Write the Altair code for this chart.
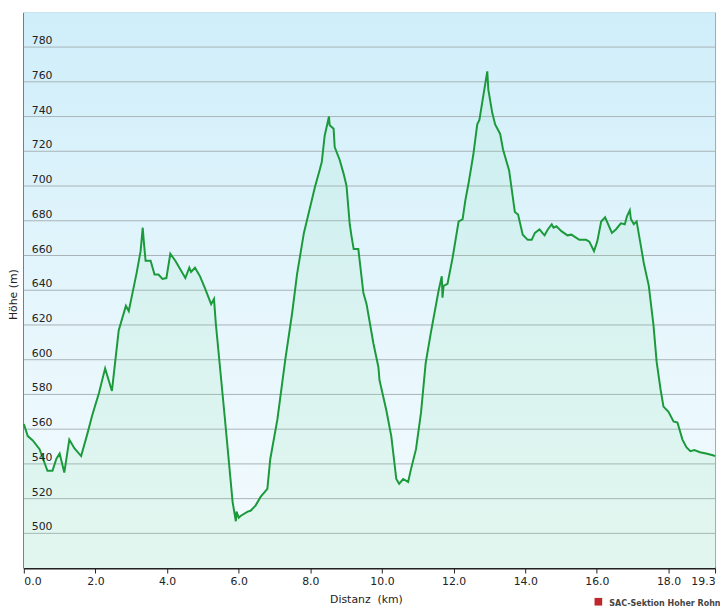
import altair as alt
import pandas as pd

dist = [0.00, 0.11, 0.25, 0.44, 0.66, 0.80, 0.91, 1.00, 1.13, 1.27, 1.41, 1.60, 1.77, 1.91,
        2.10, 2.27, 2.46, 2.65, 2.85, 2.93, 3.01, 3.15, 3.26, 3.32, 3.35, 3.40, 3.54, 3.65,
        3.76, 3.87, 3.98, 4.09, 4.23, 4.51, 4.62, 4.67, 4.78, 4.92, 5.06, 5.23, 5.31, 5.36,
        5.61, 5.83, 5.92, 5.94, 6.00, 6.05, 6.25, 6.33, 6.47, 6.61, 6.80, 6.88, 7.08, 7.30,
        7.49, 7.63, 7.82, 8.05, 8.13, 8.27, 8.32, 8.40, 8.52, 8.54, 8.65, 8.68, 8.82, 8.93,
        9.01, 9.10, 9.15, 9.21, 9.34, 9.48, 9.57, 9.76, 9.90, 9.93, 10.12, 10.26, 10.40,
        10.48, 10.59, 10.73, 10.81, 10.95, 11.09, 11.22, 11.36, 11.58, 11.67, 11.69, 11.72,
        11.83, 11.97, 12.14, 12.25, 12.33, 12.41, 12.55, 12.66, 12.72, 12.83, 12.94, 12.97,
        13.08, 13.16, 13.30, 13.38, 13.55, 13.71, 13.80, 13.93, 14.07, 14.18, 14.27, 14.40,
        14.49, 14.54, 14.63, 14.74, 14.79, 14.87, 15.01, 15.18, 15.29, 15.51, 15.70, 15.79,
        15.92, 16.01, 16.12, 16.23, 16.42, 16.53, 16.67, 16.78, 16.84, 16.92, 16.95, 17.03,
        17.11, 17.22, 17.31, 17.45, 17.58, 17.67, 17.78, 17.86, 18.00, 18.14, 18.25, 18.39,
        18.50, 18.61, 18.72, 18.88, 19.05, 19.24, 19.30]
elev = [563, 556, 553.5, 548.5, 536, 536, 543, 546, 535, 554, 549, 544.5, 557, 568,
        581, 595, 582, 617, 631, 628, 636, 650, 662.5, 676, 668, 657, 657, 649,
        649, 646.5, 647, 661, 657, 647, 653, 650.5, 653, 648, 641, 632, 635, 621,
        567, 518, 507, 512.5, 509, 510, 512.5, 513, 516, 521, 525.6, 542.7, 565.6, 600,
        626.6, 649.4, 673, 692.7, 699.6, 710, 714, 729, 740, 735, 733, 722.4, 715, 707,
        700, 678, 671, 663.7, 663.7, 638.6, 632, 609.5, 595.8, 588.4, 571, 556, 531.3,
        528.5, 531.3, 529.6, 537, 548.5, 569.5, 598, 615, 639.7, 648, 635.7, 642.5,
        643.7, 658.5, 679.6, 680.8, 692, 700.7, 718, 735.5, 738, 752, 766, 755.5,
        742, 735.5, 730, 721, 709, 685, 683.6, 672, 669, 669, 673, 675,
        672.8, 671.6, 675, 678, 676, 676.8, 674, 671.6, 672, 669, 669, 668,
        662.5, 668, 679.6, 682, 673, 675, 678.5, 678, 682.5, 686, 681, 678,
        679.6, 666.5, 655.7, 642.5, 620, 598.6, 582.7, 573, 570, 564.4, 563.8, 554,
        549.6, 547.3, 548, 546.7, 546, 545, 544.5]

y_ticks = [500, 520, 540, 560, 580, 600, 620, 640, 660, 680, 700, 720, 740, 760, 780]
x_ticks = [0, 2, 4, 6, 8, 10, 12, 14, 16, 18, 19.3]
x_title = "Distanz\u00a0 (km)"
y_title = "Höhe (m)"
credit = "SAC-Sektion Hoher Rohn"

W, H = 699, 562
FONT = "DejaVu Sans"
INK = "#222222"

df = pd.DataFrame({"d": dist, "e": elev})
ticks_df = pd.DataFrame({"v": y_ticks, "t": [str(v) for v in y_ticks]})

xscale = alt.Scale(domain=[0, 19.3], nice=False, zero=False)
yscale = alt.Scale(domain=[480, 800], nice=False, zero=False)

x_axis = alt.Axis(values=x_ticks, format=".1f", labelFlush=True, labelOverlap=False,
                  grid=False, domainColor=INK, domainWidth=2, tickColor=INK,
                  tickSize=5, tickWidth=1, labelPadding=3, labelFont=FONT,
                  labelFontSize=11, labelColor=INK, title=x_title, titleFont=FONT,
                  titleFontSize=11, titleFontWeight="normal", titleColor=INK,
                  titleX=346, titleY=35, titleBaseline="alphabetic", titleAlign="center")
y_axis = alt.Axis(values=y_ticks, grid=False, labels=False, ticks=False,
                  domainColor=INK, domainWidth=2, title=y_title, titleFont=FONT,
                  titleFontSize=11, titleFontWeight="normal", titleColor=INK,
                  titleAngle=270, titleX=-10, titleY=285, titleAlign="center",
                  titleBaseline="middle")

X = alt.X("d:Q", scale=xscale, axis=x_axis)
Y = alt.Y("e:Q", scale=yscale, axis=y_axis)

bg = alt.Chart(pd.DataFrame({"a": [0]})).mark_rect(
    fill=alt.Gradient(gradient="linear", x1=0, x2=0, y1=0, y2=1, stops=[
        alt.GradientStop(color="#cfeefa", offset=0),
        alt.GradientStop(color="#e6f6fc", offset=0.55),
        alt.GradientStop(color="#f4fbfe", offset=1)])
).encode(x=alt.value(0), x2=alt.value(W), y=alt.value(0), y2=alt.value(H))

grid = alt.Chart(ticks_df).mark_rule(color="#a8b3b7", strokeWidth=1).encode(
    y=alt.Y("v:Q", scale=yscale, axis=y_axis))

area = alt.Chart(df).mark_area(
    fill=alt.Gradient(gradient="linear", x1=0, x2=0, y1=0, y2=1, stops=[
        alt.GradientStop(color="rgba(120,220,160,0.09)", offset=0),
        alt.GradientStop(color="rgba(120,220,150,0.15)", offset=1)])
).encode(x=X, y=Y, y2=alt.datum(480))

line = alt.Chart(df).mark_line(color="#1b9a3b", strokeWidth=2).encode(x=X, y=Y)

labels = alt.Chart(ticks_df).mark_text(
    align="left", baseline="alphabetic", dy=-3, font=FONT, fontSize=11, color=INK
).encode(x=alt.value(8), y=alt.Y("v:Q", scale=yscale, axis=y_axis), text="t:N")

logo_pt = alt.Chart(pd.DataFrame({"a": [0]})).mark_point(
    shape="square", filled=True, color="#c0262d", size=60, opacity=1
).encode(x=alt.value(581), y=alt.value(596))

logo_txt = alt.Chart(pd.DataFrame({"s": [credit]})).mark_text(
    align="left", baseline="middle", font="DejaVu Sans Condensed", fontSize=9,
    fontWeight="bold", color="#444444"
).encode(x=alt.value(592), y=alt.value(597), text="s:N")

chart = alt.layer(bg, grid, area, line, labels, logo_pt, logo_txt).properties(
    width=W, height=H,
    autosize=alt.AutoSizeParams(type="none"),
    padding={"left": 16, "top": 1, "right": 5, "bottom": 42},
).configure_view(stroke="#98a6aa", strokeWidth=1)

chart.save("out.html", embed_options={"renderer": "svg", "actions": False})
